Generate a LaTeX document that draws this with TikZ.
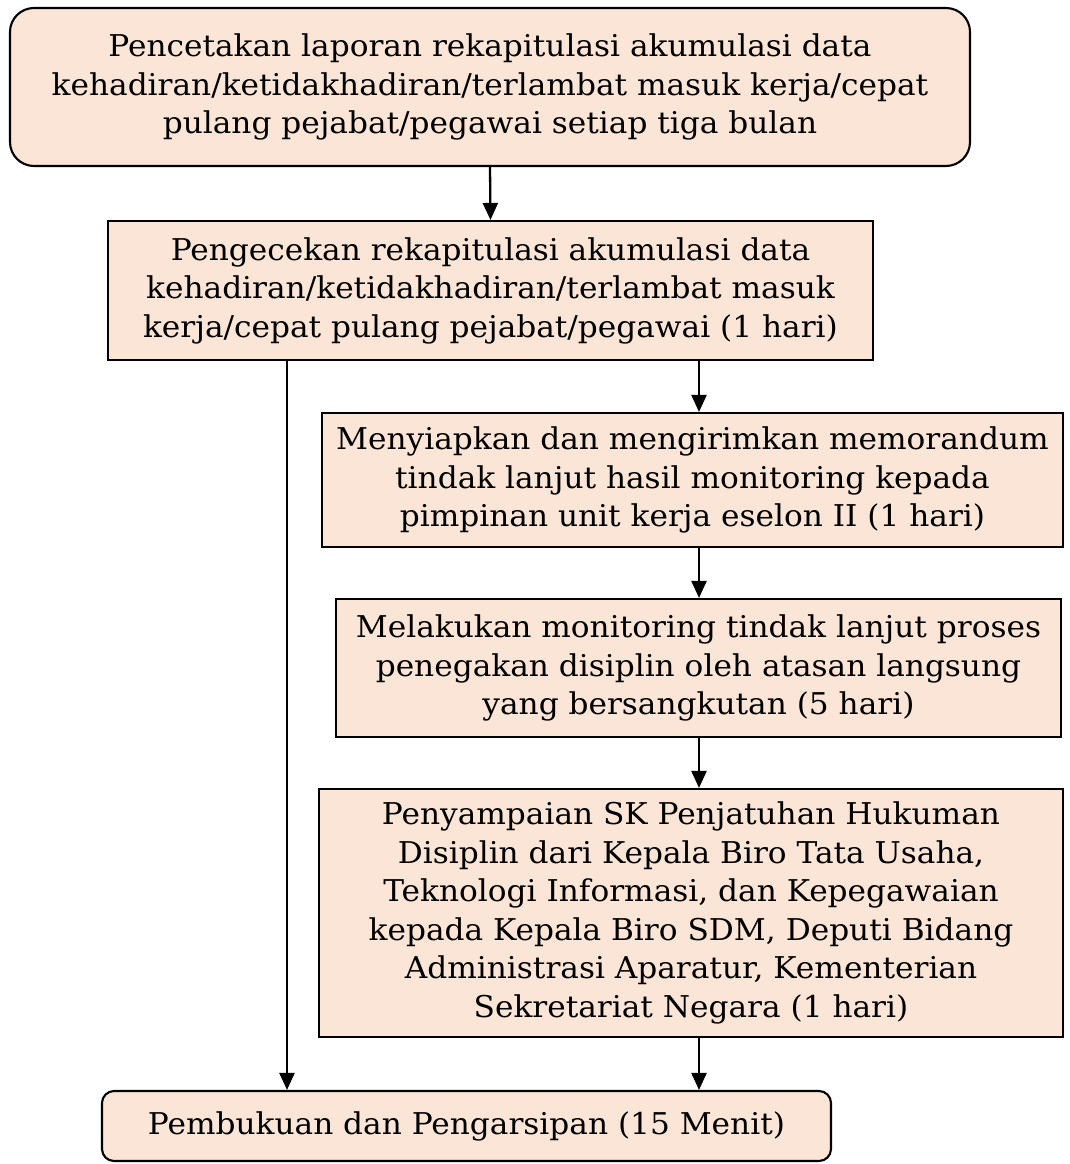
\documentclass[tikz,border=0pt]{standalone}
\usepackage{fontspec}
\setmainfont[FakeStretch=1.04]{DejaVu Serif}
\usetikzlibrary{arrows.meta}
\definecolor{peach}{HTML}{FBE5D6}
\tikzset{
  box/.style={draw=black, line width=2.1pt, fill=peach, align=center, inner sep=0pt,
    font=\fontsize{30}{38.5}\selectfont},
  rbox/.style={box, rounded corners=24pt},
  rbox2/.style={box, rounded corners=12pt},
  arr/.style={line width=2.3pt, -{Triangle[length=17pt,width=15pt]}}
}
\begin{document}
\begin{tikzpicture}[x=1pt,y=-1pt]
\useasboundingbox (0,0) rectangle (1070,1164);
\node[rbox, minimum width=960pt, minimum height=158pt] (b1) at (490,87)
  {Pencetakan laporan rekapitulasi akumulasi data\\kehadiran/ketidakhadiran/terlambat masuk kerja/cepat\\pulang pejabat/pegawai setiap tiga bulan};
\node[box, minimum width=765pt, minimum height=139pt] (b2) at (490.5,290.5)
  {Pengecekan rekapitulasi akumulasi data\\kehadiran/ketidakhadiran/terlambat masuk\\kerja/cepat pulang pejabat/pegawai (1 hari)};
\node[box, minimum width=741pt, minimum height=134pt] (b3) at (692.5,480)
  {Menyiapkan dan mengirimkan memorandum\\tindak lanjut hasil monitoring kepada\\pimpinan unit kerja eselon II (1 hari)};
\node[box, minimum width=725pt, minimum height=138pt] (b4) at (698.5,668)
  {Melakukan monitoring tindak lanjut proses\\penegakan disiplin oleh atasan langsung\\yang bersangkutan (5 hari)};
\node[box, minimum width=744pt, minimum height=248pt] (b5) at (691,913)
  {Penyampaian SK Penjatuhan Hukuman\\Disiplin dari Kepala Biro Tata Usaha,\\Teknologi Informasi, dan Kepegawaian\\kepada Kepala Biro SDM, Deputi Bidang\\Administrasi Aparatur, Kementerian\\Sekretariat Negara (1 hari)};
\node[rbox2, minimum width=729pt, minimum height=70pt] (b6) at (466.5,1126)
  {Pembukuan dan Pengarsipan (15 Menit)};
\coordinate (vx) at (699,0);
\coordinate (lx) at (287,0);
\draw[arr] (b1.south) -- (b2.north);
\draw[arr] (b2.south -| vx) -- (b3.north -| vx);
\draw[arr] (b3.south -| vx) -- (b4.north -| vx);
\draw[arr] (b4.south -| vx) -- (b5.north -| vx);
\draw[arr] (b5.south -| vx) -- (b6.north -| vx);
\draw[arr] (b2.south -| lx) -- (b6.north -| lx);
\end{tikzpicture}
\end{document}
